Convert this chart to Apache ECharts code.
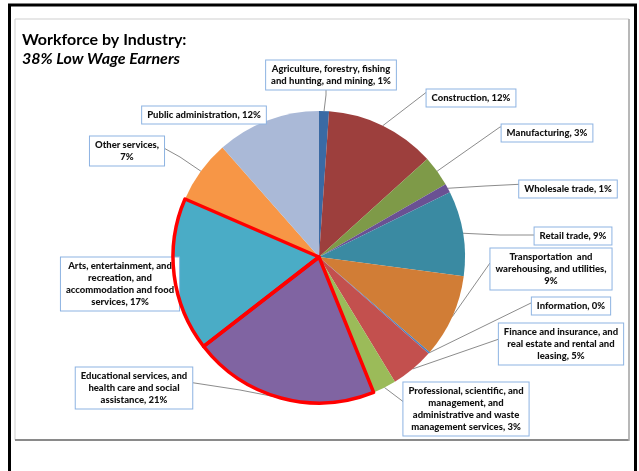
<!DOCTYPE html>
<html>
<head>
<meta charset="utf-8">
<script src="https://cdn.jsdelivr.net/npm/echarts@6/dist/echarts.min.js"></script>
<style>
html,body{margin:0;padding:0;background:#fff;}
#chart{width:639px;height:471px;}
</style>
</head>
<body>
<div id="chart"></div>
<script>
// ---- data ----
const categories = [
  'Agriculture, forestry, fishing\nand hunting, and mining',
  'Construction',
  'Manufacturing',
  'Wholesale trade',
  'Retail trade',
  'Transportation  and\nwarehousing, and utilities,\n',
  'Information',
  'Finance and insurance, and\nreal estate and rental and\nleasing',
  'Professional, scientific, and\nmanagement, and\nadministrative and waste\nmanagement services',
  'Educational services, and\nhealth care and social\nassistance',
  'Arts, entertainment, and\nrecreation, and\naccommodation and food\nservices',
  'Other services,\n',
  'Public administration'
];
const values = [1.1, 12.2, 3.4, 1.0, 9.4, 9.2, 0.2, 4.8, 2.6, 20.6, 17.0, 7.0, 11.5];
const lowWage = [false, false, false, false, false, false, false, false, false, true, true, false, false];

// ---- styles / layout (not data) ----
const colors = ['#3a6aa4','#9d3f3d','#7e9a48','#6a5193','#3a8aa2','#d17d36','#4a7fc0','#c3504e','#9bbb59','#8064a2','#4aacc6','#f79646','#aab9d7'];
// label box centres
const labelPos = [
  [331, 75], [471, 98], [547, 133], [568, 189], [573, 236], [551, 269], [571, 306],
  [561, 344], [466, 409], [134, 388], [120, 284], [127, 151], [204, 115]
];
const elbows = [
  [[326,95],[326,89]], [[426,92.5],[431,92.5]], [[500,127],[505,127]], [[485,186],[525,184]],
  [[500,235],[537,235]], [[490,263],[495,263]], [[533,302],[537,302]], [[502,338],[504,338]],
  [[405,403],[409,403]], [[240,390],[188,382]], null, [[180,157],[162,147]], null
];

const total = values.reduce((a,b)=>a+b,0);
const data = categories.map((c,i)=>({
  name: c,
  value: values[i],
  itemStyle: {color: colors[i]}
}));
const overlay = categories.map((c,i)=>({
  name: c,
  value: values[i],
  itemStyle: lowWage[i] ? {color:'rgba(0,0,0,0)', borderColor:'#ff0000', borderWidth:3.5}
                        : {color:'rgba(0,0,0,0)', borderWidth:0}
}));

const chart = echarts.init(document.getElementById('chart'), null, {renderer:'canvas'});
const font = 'Lato, "Open Sans", sans-serif';
chart.setOption({
  backgroundColor: '#ffffff',
  animation: false,
  title: [
    {text: 'Workforce by Industry:', left: 22, top: 32, padding: 0,
     textStyle:{fontFamily: font, fontSize: 16, fontWeight:'bold', color:'#000'}},
    {text: '38% Low Wage Earners', left: 22, top: 51, padding: 0,
     textStyle:{fontFamily: font, fontSize: 16, fontWeight:'bold', fontStyle:'italic', color:'#000'}}
  ],
  graphic: [
    {type:'rect', shape:{x:15, y:19, width:614, height:421}, style:{fill:'none', stroke:'#cfcfcf', lineWidth:1}, silent:true},
    {type:'line', shape:{x1:15, y1:440, x2:629, y2:440}, style:{stroke:'#8a8a8a', lineWidth:2}, silent:true},
    {type:'line', shape:{x1:629, y1:19, x2:629, y2:441}, style:{stroke:'#a8a8a8', lineWidth:1.5}, silent:true},
    {type:'rect', shape:{x:9.5, y:5, width:626, height:500}, style:{fill:'none', stroke:'#000', lineWidth:3}, silent:true}
  ],
  series: [
    {
      type: 'pie',
      center: [319, 257],
      radius: 146,
      startAngle: 90,
      clockwise: true,
      avoidLabelOverlap: false,
      data: data,
      itemStyle: {borderWidth: 0},
      label: {
        show: true,
        formatter: p => {
          const pct = Math.round(p.value / total * 100);
          const sep = p.name.endsWith('\n') ? '' : ', ';
          return p.name + sep + pct + '%';
        },
        fontFamily: font,
        fontSize: 9.5,
        fontWeight: 900,
        color: '#111',
        lineHeight: 12,
        align: 'center',
        backgroundColor: '#fff',
        borderColor: '#8db3e2',
        borderWidth: 1,
        padding: [3, 5, 2, 5]
      },
      labelLine: {show: true, lineStyle: {color: '#8c8c8c', width: 1}},
      labelLayout: function (params) {
        const i = params.dataIndex;
        const pos = labelPos[i];
        const res = {x: pos[0], y: pos[1], align: 'center', verticalAlign: 'middle'};
        if (elbows[i] && params.labelLinePoints) {
          const start = params.labelLinePoints[0];
          res.labelLinePoints = [start, elbows[i][0], elbows[i][1]];
        } else {
          res.labelLinePoints = [[0,0],[0,0],[0,0]];
        }
        return res;
      }
    },
    {
      type: 'pie',
      center: [319, 257],
      radius: 146,
      startAngle: 90,
      clockwise: true,
      silent: true,
      z: 3,
      data: overlay,
      label: {show: false},
      labelLine: {show: false}
    }
  ]
});
</script>
</body>
</html>
